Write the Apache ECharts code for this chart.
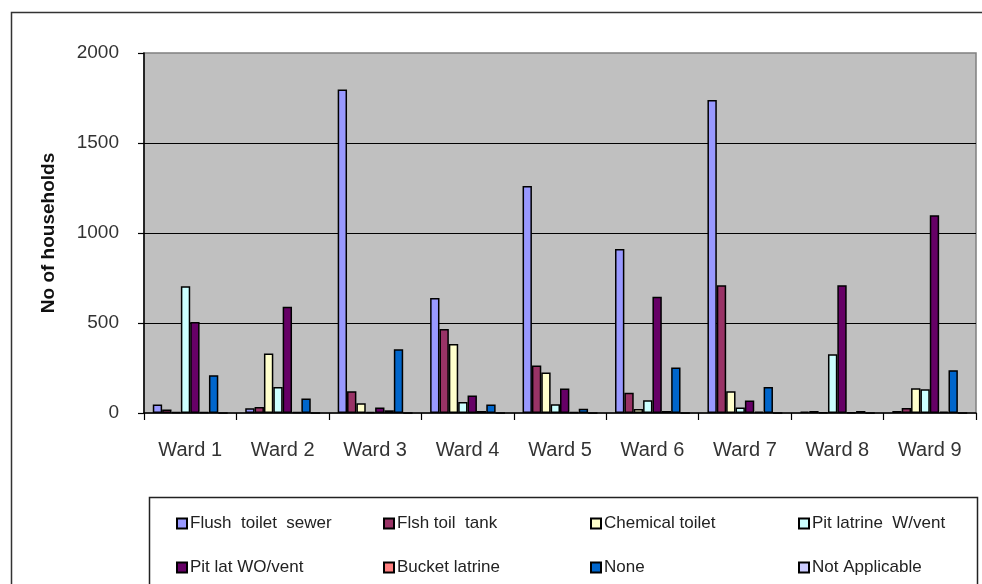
<!DOCTYPE html>
<html>
<head>
<meta charset="utf-8">
<script src="https://cdn.jsdelivr.net/npm/echarts@6/dist/echarts.min.js"></script>
<style>
html,body{margin:0;padding:0;background:#fff;}
#chart{width:982px;height:584px;}
</style>
</head>
<body>
<div id="chart"></div>
<script>
// ---- data ----
const categories = ['Ward 1','Ward 2','Ward 3','Ward 4','Ward 5','Ward 6','Ward 7','Ward 8','Ward 9'];
const flushToiletSewer = [47, 26, 1797, 639, 1261, 911, 1739, 7, 11];
const flshToilTank     = [20, 34, 121, 467, 264, 112, 710, 11, 28];
const chemicalToilet   = [5, 331, 54, 384, 225, 22, 121, 4, 138];
const pitLatrineWVent  = [704, 145, 5, 61, 48, 71, 30, 326, 132];
const pitLatWOVent     = [506, 590, 30, 97, 136, 646, 69, 710, 1099];
const bucketLatrine    = [5, 5, 15, 11, 5, 11, 7, 3, 7];
const noneValues       = [210, 80, 354, 47, 24, 253, 145, 11, 238];
const notApplicable    = [0, 0, 0, 0, 0, 0, 0, 0, 0];
const yTicks = [0, 500, 1000, 1500, 2000];

const seriesNames = ['Flush  toilet  sewer','Flsh toil  tank','Chemical toilet','Pit latrine  W/vent',
                     'Pit lat WO/vent','Bucket latrine','None','Not Applicable'];
const seriesData = [flushToiletSewer, flshToilTank, chemicalToilet, pitLatrineWVent,
                    pitLatWOVent, bucketLatrine, noneValues, notApplicable];
const colors = ['#9999FF','#993366','#FFFFCC','#CCFFFF','#660066','#FF8080','#0066CC','#CCCCFF'];

const FONT = 'Liberation Sans, Arial, sans-serif';
const chart = echarts.init(document.getElementById('chart'), null, {renderer:'canvas'});

// legend layout: 4 columns x 2 rows
const legendCols = [171, 378, 585, 793];
const legendRows = [510, 554];
const legends = seriesNames.map((n, i) => ({
  orient: 'horizontal',
  icon: 'rect',
  itemWidth: 10,
  itemHeight: 10,
  itemGap: 0,
  selectedMode: false,
  left: legendCols[i % 4],
  top: legendRows[Math.floor(i / 4)],
  data: [n],
  textStyle: { fontFamily: FONT, fontSize: 17, color: '#222', padding: [0,0,0,-2] }
}));

chart.setOption({
  animation: false,
  backgroundColor: '#ffffff',
  color: colors,
  graphic: [
    { type:'rect', left:9, top:10, z:-1, shape:{x:0,y:0,width:1000,height:620},
      style:{fill:'none', stroke:'#333', lineWidth:1.5} },
    { type:'rect', left:147, top:495, z:-1, shape:{x:0,y:0,width:828,height:120},
      style:{fill:'none', stroke:'#222', lineWidth:1.5} }
  ],
  grid: {
    left: 144, right: 6, top: 53, bottom: 171,
    show: true, backgroundColor: '#C0C0C0', borderColor: '#808080', borderWidth: 1.5
  },
  legend: legends,
  xAxis: {
    type: 'category',
    data: categories,
    axisLine: { lineStyle: { color: '#000', width: 1.5 } },
    axisTick: { show: true, length: 7, inside: false, lineStyle:{color:'#000', width:1.2} },
    axisLabel: { fontFamily: FONT, fontSize: 20, color: '#333', margin: 27 },
    splitLine: { show: false }
  },
  yAxis: {
    type: 'value',
    min: yTicks[0], max: yTicks[yTicks.length-1], interval: 500,
    name: 'No of households',
    nameLocation: 'middle',
    nameGap: 86,
    nameRotate: 90,
    nameTextStyle: { fontFamily: FONT, fontSize: 19, fontWeight: 'bold', color: '#111' },
    axisLine: { show: true, lineStyle: { color: '#000', width: 1.5 } },
    axisTick: { show: true, length: 6, inside: false, lineStyle:{color:'#000', width:1.2} },
    axisLabel: { fontFamily: FONT, fontSize: 19, color: '#333', margin: 25,
                 formatter: v => String(v) },
    splitLine: { show: true, showMinLine:false, showMaxLine:false, lineStyle: { color: '#000', width: 1.2 } }
  },
  series: seriesNames.map((n, i) => ({
    name: n,
    type: 'bar',
    data: seriesData[i],
    barGap: '0%',
    barCategoryGap: '19%',
    itemStyle: { color: colors[i], borderColor: '#000', borderWidth: 1.5 }
  }))
});
</script>
</body>
</html>
